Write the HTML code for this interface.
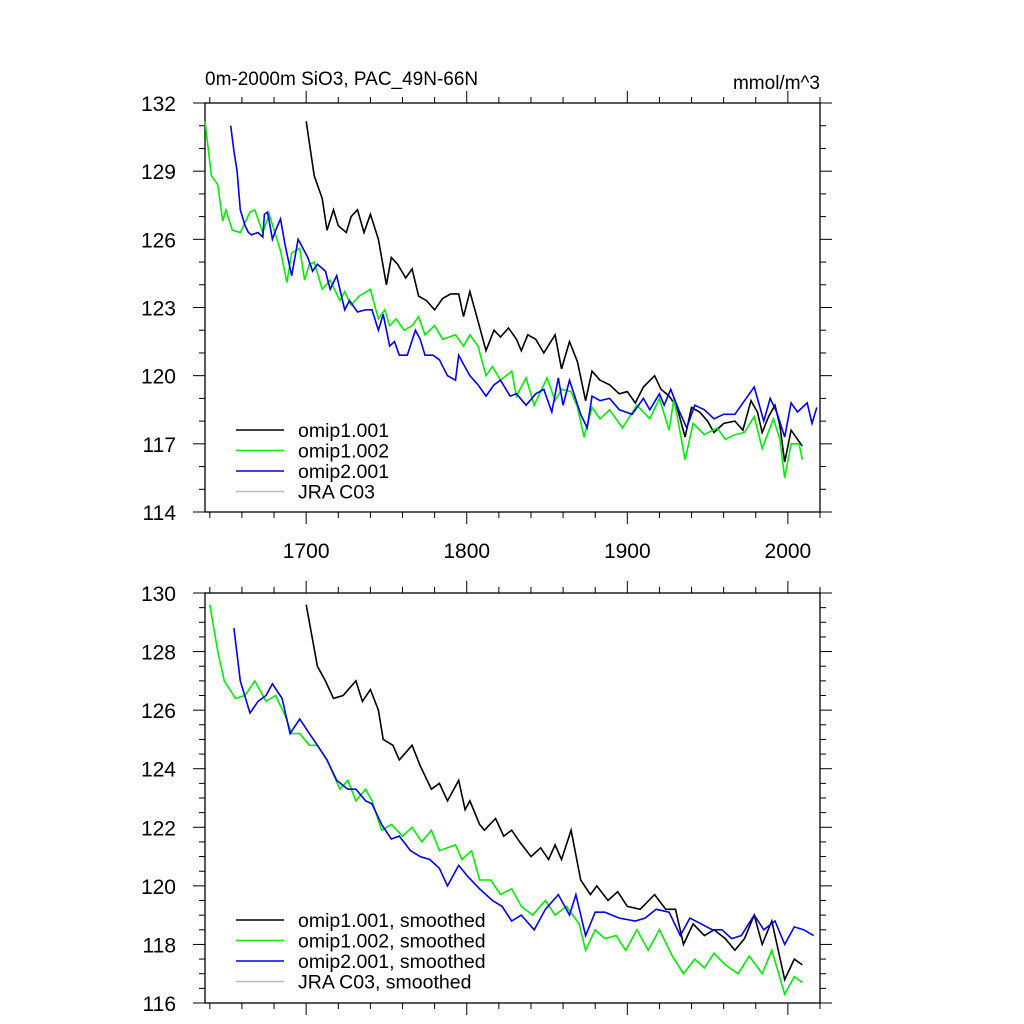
<!DOCTYPE html>
<html><head><meta charset="utf-8"><style>
body{margin:0;background:#fff}
svg{display:block;font-family:"Liberation Sans",sans-serif}
</style></head><body>
<svg id="chart" width="1024" height="1024" viewBox="0 0 1024 1024"></svg>
<script>
// ---- data: top panel (annual) ----
const yrs1 = [1700,1705,1710,1713,1717,1720,1725,1728,1732,1736,1740,1745,1750,1753,1757,1762,1766,1770,1775,1780,1785,1790,1795,1798,1802,1807,1812,1817,1821,1826,1831,1834,1838,1843,1848,1855,1859,1864,1869,1874,1878,1883,1889,1895,1900,1905,1910,1917,1921,1926,1931,1936,1940,1945,1950,1954,1960,1967,1972,1977,1981,1984,1988,1992,1995,1998,2002,2006,2009];
const val1 = [131.2,128.8,127.8,126.4,127.3,126.6,126.3,127.0,127.3,126.3,127.1,126.0,124.0,125.2,124.9,124.3,124.7,123.5,123.3,122.9,123.4,123.6,123.6,122.6,123.7,122.4,121.1,122.0,121.7,122.1,121.6,121.1,121.8,121.6,121.0,121.8,120.3,121.5,120.6,118.9,120.2,119.8,119.6,119.2,119.3,118.8,119.5,120.0,119.4,119.1,118.6,117.3,118.6,118.4,118.0,117.5,117.9,118.0,117.6,118.9,118.4,117.5,118.2,118.7,117.8,116.2,117.6,117.2,116.9];
const yrs2 = [1637,1641,1645,1648,1650,1654,1659,1665,1668,1673,1677,1684,1688,1691,1696,1699,1702,1705,1710,1715,1721,1724,1728,1733,1740,1745,1749,1752,1756,1761,1766,1770,1774,1780,1785,1793,1798,1802,1807,1812,1816,1821,1828,1831,1837,1842,1850,1855,1859,1865,1869,1873,1878,1883,1889,1897,1906,1914,1920,1926,1929,1936,1941,1948,1956,1961,1967,1973,1979,1984,1991,1995,1998,2002,2007,2009];
const val2 = [131.2,128.8,128.4,126.8,127.3,126.4,126.3,127.2,127.3,126.3,127.1,125.5,124.1,125.4,125.6,124.2,124.9,125.0,123.8,124.2,123.3,123.7,123.1,123.5,123.8,122.5,122.9,122.2,122.5,122.0,122.2,122.6,121.8,122.2,121.6,121.8,121.3,121.8,121.3,120.0,120.4,119.8,120.2,119.1,119.9,118.7,119.9,118.9,119.4,119.3,118.6,117.3,118.6,118.1,118.5,117.7,118.7,118.1,119.0,117.6,119.0,116.3,117.9,117.4,117.7,117.2,117.4,117.5,118.2,116.8,118.1,117.2,115.5,117.0,117.0,116.3];
const yrs3 = [1653,1655,1657,1659,1662,1664,1666,1670,1673,1674,1676,1679,1681,1684,1687,1691,1695,1698,1701,1704,1707,1712,1715,1719,1724,1727,1732,1737,1741,1745,1748,1752,1755,1758,1763,1768,1771,1774,1779,1783,1788,1793,1795,1798,1802,1807,1812,1817,1821,1827,1831,1837,1843,1848,1853,1857,1860,1864,1871,1875,1878,1883,1889,1895,1903,1910,1914,1920,1923,1927,1932,1937,1942,1948,1954,1960,1967,1973,1979,1985,1989,1993,1998,2002,2006,2012,2015,2018];
const val3 = [131.0,129.9,129.0,127.3,126.6,126.3,126.2,126.3,126.1,127.1,127.2,126.0,126.4,126.9,125.7,124.4,126.0,125.6,125.2,124.6,124.9,124.6,123.8,124.4,122.9,123.3,122.8,122.9,122.9,122.0,122.7,121.3,121.5,120.9,120.9,122.0,121.6,120.9,120.9,120.7,120.0,119.8,120.9,120.5,120.0,119.6,119.1,119.6,119.8,119.1,119.2,118.7,119.2,119.4,118.4,119.9,118.7,119.8,118.3,117.7,119.1,118.9,119.0,118.5,118.3,119.0,118.5,119.2,118.7,119.4,118.5,117.7,118.7,118.5,118.1,118.3,118.3,118.9,119.5,118.0,119.0,118.4,117.3,118.8,118.4,118.8,117.9,118.6];
// ---- data: bottom panel (smoothed) ----
const syrs1 = [1700,1707,1712,1717,1723,1731,1735,1740,1745,1748,1754,1758,1766,1771,1778,1783,1788,1795,1799,1802,1808,1811,1818,1823,1828,1833,1840,1846,1851,1855,1859,1865,1871,1877,1881,1888,1894,1900,1908,1917,1924,1930,1935,1941,1948,1954,1961,1967,1973,1979,1984,1990,1998,2004,2009];
const sval1 = [129.6,127.5,127.0,126.4,126.5,127.0,126.3,126.7,126.0,125.0,124.8,124.3,124.8,124.1,123.3,123.5,122.9,123.6,122.6,122.9,122.1,121.9,122.3,121.7,121.9,121.5,121.0,121.3,120.9,121.4,120.9,121.9,120.2,119.7,120.0,119.5,119.8,119.3,119.2,119.7,119.2,119.2,118.0,118.7,118.3,118.5,118.2,117.8,118.2,119.0,118.0,118.8,116.8,117.5,117.3];
const syrs2 = [1640,1645,1649,1656,1662,1668,1675,1681,1687,1691,1696,1702,1707,1713,1721,1726,1731,1737,1741,1747,1753,1760,1766,1772,1778,1783,1793,1797,1803,1808,1815,1821,1828,1834,1841,1849,1855,1862,1870,1874,1880,1886,1893,1899,1906,1913,1920,1928,1935,1942,1948,1954,1961,1969,1976,1984,1990,1998,2004,2009];
const sval2 = [129.6,128.0,127.0,126.4,126.5,127.0,126.3,126.5,125.8,125.2,125.2,124.8,124.8,124.3,123.3,123.6,122.9,123.3,122.9,121.9,122.1,121.7,122.0,121.5,121.9,121.2,121.4,120.9,121.2,120.2,120.2,119.7,119.9,119.3,119.0,119.5,119.0,119.3,118.7,117.8,118.5,118.2,118.3,117.8,118.5,117.8,118.5,117.6,117.0,117.5,117.2,117.7,117.3,117.0,117.6,117.0,117.8,116.3,116.9,116.7];
const syrs3 = [1655,1659,1665,1670,1675,1679,1685,1690,1696,1702,1707,1713,1719,1726,1731,1737,1741,1747,1753,1758,1765,1771,1777,1783,1788,1795,1801,1808,1816,1822,1828,1834,1842,1849,1857,1864,1868,1874,1880,1886,1895,1905,1911,1918,1926,1933,1939,1946,1953,1959,1965,1971,1979,1985,1992,1998,2004,2010,2016];
const sval3 = [128.8,127.0,125.9,126.3,126.5,126.9,126.4,125.2,125.7,125.2,124.8,124.3,123.6,123.3,123.3,122.9,122.8,122.1,121.6,121.7,121.2,121.0,120.9,120.6,120.0,120.7,120.3,119.9,119.5,119.3,118.8,119.0,118.5,119.2,119.7,119.0,119.7,118.3,119.1,119.1,118.9,118.8,118.9,119.2,119.1,118.3,118.9,118.7,118.5,118.5,118.2,118.3,119.0,118.5,118.8,118.0,118.6,118.5,118.3];
const yTicksTop = [114,117,120,123,126,129,132];
const yTicksBot = [116,118,120,122,124,126,128,130];
const xTickLabels = [1700,1800,1900,2000];
const legendTop = ["omip1.001","omip1.002","omip2.001","JRA C03"];
const legendBot = ["omip1.001, smoothed","omip1.002, smoothed","omip2.001, smoothed","JRA C03, smoothed"];
const colors = ["#000000","#00ee00","#0000ee","#bbbbbb"];

const NS="http://www.w3.org/2000/svg";
const svg=document.getElementById('chart');
function mk(tag,attrs,parent){const e=document.createElementNS(NS,tag);for(const k in attrs)e.setAttribute(k,attrs[k]);(parent||svg).appendChild(e);return e;}
const X0=205,X1=820,YR0=1637,YR1=2020;
const xs=y=>X0+(y-YR0)/(YR1-YR0)*(X1-X0);

function panel(top,bot,vmin,vmax,yt,minorStep,series,legend,legY,showX,name){
  const g=mk('g',{});
  
  
  const ys=v=>bot-(v-vmin)/(vmax-vmin)*(bot-top);
  mk('rect',{x:X0,y:top,width:X1-X0,height:bot-top,fill:'none',stroke:'#000','stroke-width':1.3},g);
  for(let yr=1640;yr<=2020;yr+=20){
    const x=xs(yr),maj=yr%100===0,L=maj?12:6;
    mk('line',{x1:x,x2:x,y1:bot,y2:bot+L,stroke:'#000','stroke-width':1},g);
    mk('line',{x1:x,x2:x,y1:top,y2:top-L,stroke:'#000','stroke-width':1},g);
  }
  if(showX) xTickLabels.forEach(t=>{const e=mk('text',{x:xs(t),y:bot+46,'text-anchor':'middle','font-size':21},g);e.textContent=t;
    
    });
  for(let v=vmin;v<=vmax+1e-6;v+=minorStep){
    const y=ys(v),maj=yt.some(t=>Math.abs(t-v)<1e-6),L=maj?12:6;
    mk('line',{x1:X0-L,x2:X0,y1:y,y2:y,stroke:'#000','stroke-width':1},g);
    mk('line',{x1:X1,x2:X1+L,y1:y,y2:y,stroke:'#000','stroke-width':1},g);
  }
  yt.forEach(t=>{const e=mk('text',{x:176,y:ys(t)+8,'text-anchor':'end','font-size':21},g);e.textContent=t;
    
    });
  series.forEach((s,i)=>{
    const p=mk('polyline',{points:s[0].map((yr,j)=>xs(yr).toFixed(1)+','+ys(s[1][j]).toFixed(1)).join(' '),fill:'none',stroke:colors[i],'stroke-width':1.6},g);
    
    
  });
  legend.forEach((t,i)=>{
    const y=legY+i*20.5;
    mk('line',{x1:236,x2:284,y1:y,y2:y,stroke:colors[i],'stroke-width':1.5},g);
    const e=mk('text',{x:298,y:y+7,'font-size':19.5},g);e.textContent=t;
    
    
  });
}
panel(103,512,114,132,yTicksTop,1,[[yrs1,val1],[yrs2,val2],[yrs3,val3]],legendTop,430,true,'top-panel');
panel(593,1003,116,130,yTicksBot,0.5,[[syrs1,sval1],[syrs2,sval2],[syrs3,sval3]],legendBot,920,false,'bottom-panel');
const t1=mk('text',{x:205,y:85,'font-size':19});t1.textContent='0m-2000m SiO3, PAC_49N-66N';


const t2=mk('text',{x:820,y:89,'font-size':19,'text-anchor':'end'});t2.textContent='mmol/m^3';


</script>
</body></html>
